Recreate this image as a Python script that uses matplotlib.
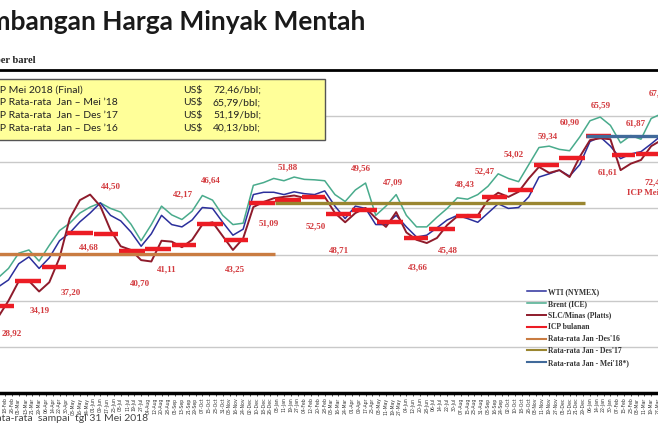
import numpy as np
import pandas as pd
import matplotlib
matplotlib.use('Agg')
import matplotlib.pyplot as plt
import matplotlib.dates as mdates
from matplotlib.patches import Rectangle

# harga harian (sampel tiap 12 hari), US$/bbl
tanggal = pd.date_range('2016-01-29', periods=68, freq='12D')
brent = [33.5, 35.0, 37.0, 40.3, 41.0, 38.6, 42.0, 45.2, 46.8, 49.0,
         50.3, 51.2, 50.0, 49.2, 46.6, 43.0, 46.5, 50.5, 48.6, 47.6,
         49.4, 52.8, 51.8, 48.5, 46.5, 46.8, 55.0, 55.6, 56.5, 56.0,
         56.8, 56.3, 56.2, 56.0, 53.0, 51.5, 54.0, 55.5, 48.5, 50.5,
         53.0, 48.5, 46.0, 46.0, 48.1, 50.0, 52.3, 52.0, 53.0, 54.8,
         57.5, 56.5, 55.8, 59.5, 63.2, 63.5, 62.8, 62.5, 65.5, 69.0,
         69.8, 68.0, 64.2, 65.8, 65.0, 69.5, 70.5, 71.5]
wti = [31.0, 33.0, 34.5, 38.0, 39.5, 37.0, 39.3, 43.0, 44.7, 47.1,
       49.0, 51.2, 48.5, 47.3, 44.9, 41.8, 44.5, 48.5, 46.5, 46.0,
       47.5, 50.2, 50.0, 47.0, 44.2, 45.5, 53.0, 53.5, 53.5, 53.0,
       53.6, 53.2, 53.0, 53.8, 50.5, 47.8, 50.5, 50.0, 46.5, 46.5,
       48.5, 46.0, 43.8, 44.2, 45.8, 47.5, 48.5, 47.8, 47.0, 49.0,
       51.0, 50.0, 50.2, 52.5, 56.8, 57.5, 58.3, 57.0, 59.5, 64.5,
       65.5, 63.5, 60.8, 61.8, 62.3, 64.0, 65.8, 66.5]
slc = [24.0, 26.5, 30.0, 34.2, 34.3, 32.0, 34.0, 39.3, 47.8, 51.8,
       53.0, 50.5, 45.3, 41.8, 41.0, 38.8, 38.5, 43.0, 42.8, 41.6,
       43.2, 46.5, 47.0, 44.0, 41.0, 43.5, 50.3, 51.4, 52.2, 52.5,
       52.8, 52.3, 52.7, 52.5, 49.0, 47.0, 49.0, 50.1, 47.9, 46.0,
       49.2, 44.8, 43.2, 42.5, 43.6, 46.4, 48.3, 48.6, 48.5, 51.8,
       53.4, 52.5, 53.6, 56.5, 59.0, 57.7, 58.3, 56.8, 61.2, 64.8,
       65.2, 65.0, 58.3, 59.7, 60.5, 63.5, 64.8, 66.0]

# ICP bulanan
bulan = pd.date_range('2016-01-01', '2018-05-01', freq='MS')
icp = [27.49, 28.92, 34.19, 37.20, 44.68, 44.50, 40.70, 41.11, 42.17, 46.64, 43.25, 51.09,
       51.88, 52.50, 48.71, 49.56, 47.09, 43.66, 45.48, 48.43, 52.47, 54.02, 59.34, 60.90,
       65.59, 61.61, 61.87, 67.43, 72.46]

# rata-rata
rata_label = ["Rata-rata Jan -Des'16", "Rata-rata Jan - Des'17", "Rata-rata Jan - Mei'18*)"]
rata_nilai = [40.13, 51.19, 65.79]
rata_awal = ['2016-01-01', '2017-01-01', '2018-01-01']
rata_akhir = ['2016-12-31', '2017-12-31', '2018-05-31']

kotak_teks = ["ICP Mei 2018 (Final)", "ICP Rata-rata  Jan \u2013 Mei \u201918",
              "ICP Rata-rata  Jan \u2013 Des \u201917", "ICP Rata-rata  Jan \u2013 Des \u201916"]
kotak_nilai = [72.46, 65.79, 51.19, 40.13]

# posisi label angka ICP (tanggal, nilai)
lbl_tgl = ['2016-01-02', '2016-02-26', '2016-03-30', '2016-05-05', '2016-05-27', '2016-06-21',
           '2016-07-26', '2016-08-26', '2016-09-14', '2016-10-17', '2016-11-15', '2016-12-24',
           '2017-01-15', '2017-02-17', '2017-03-17', '2017-04-11', '2017-05-19', '2017-06-18',
           '2017-07-23', '2017-08-12', '2017-09-04', '2017-10-08', '2017-11-17', '2017-12-13',
           '2018-01-19', '2018-01-27', '2018-03-01', '2018-03-28', '2018-03-23']
lbl_y = [28.0, 23.0, 27.8, 31.9, 41.6, 54.7, 33.8, 36.7, 53.1, 56.0, 36.7, 46.8,
         58.8, 46.0, 40.8, 58.6, 55.7, 37.3, 41.0, 55.1, 58.1, 61.6, 65.5, 68.7,
         72.4, 57.9, 68.5, 75.0, 55.7]

fig = plt.figure(figsize=(6.58, 4.37), dpi=100)
ax = fig.add_axes([0, 44/437, 1, 323/437])

ax.plot(tanggal, brent, color='#49ab8c', lw=1.1, label='Brent (ICE)', zorder=3)
ax.plot(tanggal, wti, color='#2b2f9c', lw=1.1, label='WTI (NYMEX)', zorder=3)
ax.plot(tanggal, slc, color='#8e1b2b', lw=1.4, label='SLC/Minas (Platts)', zorder=4)

akhir_bulan = [b + pd.offsets.MonthEnd(0) for b in bulan]
ax.hlines(icp, bulan, akhir_bulan, color='#ec1c24', lw=3.2, zorder=5)
ax.plot([], [], color='#ec1c24', lw=1.5, label='ICP bulanan')

warna_rata = ['#c97c42', '#9a8630', '#416a9a']
for lab, v, a, b, w in zip(rata_label, rata_nilai, rata_awal, rata_akhir, warna_rata):
    ax.hlines(v, pd.Timestamp(a), pd.Timestamp(b), color=w, lw=2.4, zorder=6)
    ax.plot([], [], color=w, lw=1.5, label=lab)

for t, y, v in zip(lbl_tgl, lbl_y, icp):
    ax.text(pd.Timestamp(t), y, f'{v:.2f}'.replace('.', ','), color='#d33a3e',
            fontsize=6.5, fontweight='bold', family='Liberation Serif',
            ha='center', va='center', zorder=8)
ax.text(pd.Timestamp('2018-02-19'), 53.3, 'ICP Mei', color='#d33a3e', fontsize=6.5,
        fontweight='bold', family='Liberation Serif', ha='left', va='center', zorder=8)

ax.set_yticks([20, 30, 40, 50, 60, 70])
ax.yaxis.grid(True, color='#c9c9c9', lw=1)
ax.tick_params(axis='y', length=0, labelleft=False)
ax.set_xticks(pd.date_range('2016-02-02', '2018-04-10', freq='8D'))
ax.xaxis.set_major_formatter(mdates.DateFormatter('%d-%b'))
ax.tick_params(axis='x', labelsize=3.3, rotation=90, length=2.5, width=0.6,
               colors='#333333', pad=0.8)
ax.set_xlim(pd.Timestamp('2016-02-12'), pd.Timestamp('2018-03-27'))
ax.set_ylim(10, 80)
for s in ['left', 'right']:
    ax.spines[s].set_visible(False)
ax.spines['top'].set_linewidth(2)
ax.spines['bottom'].set_linewidth(2.5)

# urutan legenda
h, l = ax.get_legend_handles_labels()
urut = ['WTI (NYMEX)', 'Brent (ICE)', 'SLC/Minas (Platts)', 'ICP bulanan'] + rata_label
hh = [h[l.index(k)] for k in urut]
leg = ax.legend(hh, urut, loc='upper left', bbox_to_anchor=(527/658, 1 - 288/437),
                bbox_transform=fig.transFigure, frameon=False, borderpad=0, borderaxespad=0,
                prop={'family': 'Liberation Serif', 'weight': 'bold', 'size': 5.5},
                labelspacing=0.5, handlelength=2.5, handletextpad=0.25)
for t in leg.get_texts():
    t.set_color('#333333')

# judul dan kotak keterangan
fig.text(365/658, 1 - 22/437, 'Perkembangan Harga Minyak Mentah', ha='right', va='center',
         fontsize=19, fontweight='bold', family='Lato', color='#1a1a1a')
fig.text(35/658, 1 - 60/437, 'US$ per barel', ha='right', va='center', fontsize=7.5,
         fontweight='bold', family='Liberation Serif', color='#222222')
fig.patches.append(Rectangle((-5/658, 1 - 140/437), 330/658, 61/437, transform=fig.transFigure,
                             facecolor='#ffff99', edgecolor='#555555', lw=1, zorder=1))
for i, (t, v) in enumerate(zip(kotak_teks, kotak_nilai)):
    yy = 1 - (90 + i * 12.7) / 437
    fig.text(-10/658, yy, t, ha='left', va='center', fontsize=7.5, family='Lato', color='#222222')
    fig.text(183/658, yy, 'US$', ha='left', va='center', fontsize=7.5, family='Lato', color='#222222')
    fig.text(213/658, yy, f'{v:.2f}'.replace('.', ',') + '/bbl;', ha='left', va='center',
             fontsize=7.5, family='Lato', color='#222222')

fig.text(148/658, 1 - 418/437, '*) Rata-rata  sampai  tgl 31 Mei 2018', ha='right', va='center',
         fontsize=7.5, family='Lato', color='#444444')

fig.savefig('out.png', dpi=100)
